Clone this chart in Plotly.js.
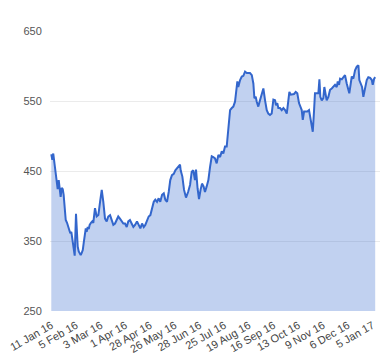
<!DOCTYPE html>
<html>
<head>
<meta charset="utf-8">
<script src="https://cdn.plot.ly/plotly-3.0.1.min.js"></script>
<style>html,body{margin:0;padding:0;background:#fff;}#chart{width:380px;height:360px;}</style>
</head>
<body>
<div id="chart"></div>
<script>
// trading-day position of each reading (0 = 11 Jan 16)
const tradingDay = [
0,0.8,1.5,2.6,3.4,4.2,4.9,5.7,6.5,7.2,8.0,8.8,9.5,10.3,11.1,12.1,13.1,13.8,14.6,15.4,16.2,17.2,18,19,19.8,20.3,21.1,21.8,22.6,23.4,24.2,24.9,25.7,26.5,27.2,28,28.8,29.5,30.5,31.5,32.3,33.6,34.9,36.2,37.5,38.8,40,41.3,42.6,43.8,45.2,46.5,47.7,49,50.3,51.5,52.8,54.2,55.4,56.7,58,59.2,60.5,61.8,63.1,64.4,65.9,67.2,68.5,69.8,71.1,72.3,73.6,74.9,76.2,77.5,78.8,80,81.3,82.6,83.8,85.2,86.5,87.7,89,90.3,91.5,92.8,94.2,95.4,96.9,98.2,99,99.5,100.8,102.1,103.6,105.2,106.7,108,109.2,110.5,111.3,112.5,113.6,114.8,115.9,117.1,118.2,119.5,120.8,122.1,123.4,124.6,125.9,127.2,128.5,129.8,131.1,132.3,133.6,134.9,136.2,137.5,138.8,140,141.3,142.6,143.1,143.8,145.2,146.5,147.7,149,150.3,151.5,152.8,154.2,155.4,156.2,157.2,158,159.2,160.5,161.8,163.1,164.4,165.7,166.9,168.2,169.5,170.8,172.1,172.8,173.8,174.6,175.9,177.2,178.5,179.8,181.1,181.8,183.1,184.2,185.4,186.7,188,189.2,190.5,191.3,192.6,193.4,194.4,195.7,196.9,198.2,199.5,200.3,201.1,202.1,202.8,204.2,205.4,206.2,206.9,208,209.2,210,211.1,211.8,213.1,214.4,215.7,216.9,218.2,219.5,220.3,221.3,222.1,223.4,224.6,225.9,227.2,228.5,229.2,230.3,231.1,232.3,233.6,234.9,236.2,236.9,238,239,240,241.3,242.6,243.8,245.2,246.5,247.2,248.3,249.1
];
const price = [
474,466,475,456,447,433,424,437,423,413,426,424,416,399,380,376,371,366,361,363,354,337,329,389,351,342,335,333,330,333,337,347,356,368,363,370,367,373,376,378,376,397,385,387,406,423,406,382,378,385,387,378,373,375,380,385,382,378,375,375,370,378,380,375,370,373,378,373,368,375,370,373,378,385,387,397,406,409,406,411,406,416,418,409,406,420,437,444,446,451,454,456,459,451,442,423,412,420,430,449,451,437,452,425,410,423,432,428,420,428,437,456,471,470,468,461,473,470,478,475,485,485,513,537,540,542,549,575,578,570,580,585,586,592,590,590,590,587,575,554,556,549,542,551,559,568,551,537,532,530,532,552,551,544,547,540,540,537,540,537,532,542,563,559,559,560,563,561,547,542,537,523,535,535,535,537,523,509,506,537,561,561,561,581,556,551,554,570,556,551,556,566,568,570,573,570,578,573,582,581,584,587,575,566,561,575,585,582,594,599,601,580,575,570,556,570,580,584,583,580,573,582,584
];
const tickDays = [0,19,38,57,76,95,114,133,152,171,190,209,228,247];
const tickLabels = ["11 Jan 16","5 Feb 16","3 Mar 16","1 Apr 16","28 Apr 16","26 May 16","28 Jun 16","25 Jul 16","19 Aug 16","16 Sep 16","13 Oct 16","9 Nov 16","6 Dec 16","5 Jan 17"];
const yTicks = [250,350,450,550,650];

Plotly.newPlot('chart', [{
  x: tradingDay, y: price, type: 'scatter', mode: 'lines',
  line: {color: '#3366cc', width: 2},
  fill: 'tozeroy', fillcolor: 'rgba(51,102,204,0.3)',
  hoverinfo: 'skip'
}], {
  width: 380, height: 360,
  margin: {l: 50, r: 0, t: 31, b: 49},
  paper_bgcolor: '#fff', plot_bgcolor: '#fff',
  showlegend: false,
  font: {family: 'Liberation Sans, Arial, sans-serif', size: 11, color: '#555'},
  xaxis: {
    range: [-1, 252.8], tickmode: 'array', tickvals: tickDays, ticktext: tickLabels,
    tickangle: -30, showgrid: false, zeroline: false, showline: false,
    ticks: 'outside', ticklen: 3, tickcolor: 'rgba(0,0,0,0)',
    tickfont: {size: 11, color: '#444'}
  },
  yaxis: {
    range: [250, 650], tickmode: 'array', tickvals: yTicks,
    showgrid: true, gridcolor: '#ebebeb', gridwidth: 1, zeroline: false, showline: false,
    ticks: 'outside', ticklen: 5, tickcolor: 'rgba(0,0,0,0)',
    tickfont: {size: 11, color: '#555'}
  }
}, {staticPlot: true, displayModeBar: false});
</script>
</body>
</html>
